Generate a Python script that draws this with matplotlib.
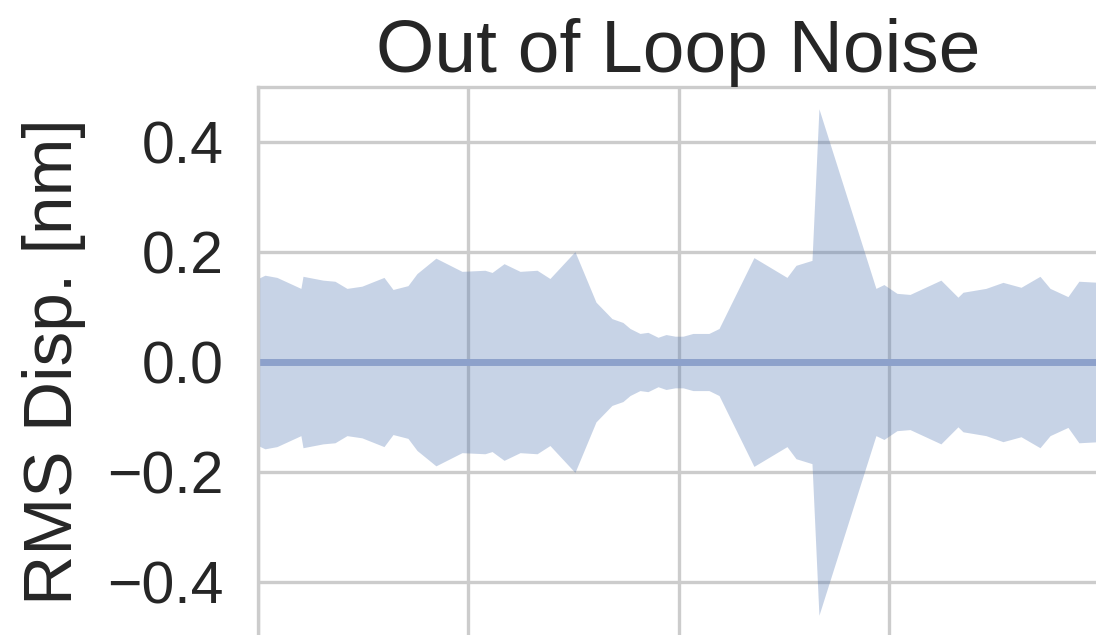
import matplotlib
matplotlib.use("Agg")
import matplotlib.pyplot as plt
import seaborn as sns

# time axis (arbitrary units, gridlines every 1.0) and RMS displacement [nm]
t = [0.000, 0.033, 0.090, 0.204, 0.214, 0.309, 0.366, 0.423, 0.494, 0.599,
     0.642, 0.713, 0.756, 0.846, 0.970, 1.079, 1.113, 1.170, 1.246, 1.327,
     1.388, 1.507, 1.607, 1.683, 1.735, 1.769, 1.816, 1.854, 1.902, 1.940,
     1.983, 2.021, 2.068, 2.144, 2.192, 2.358, 2.515, 2.558, 2.634, 2.667,
     2.938, 2.976, 3.038, 3.100, 3.247, 3.328, 3.352, 3.461, 3.542, 3.628,
     3.718, 3.766, 3.851, 3.903, 4.000]
rms = [0.152, 0.158, 0.154, 0.134, 0.156, 0.149, 0.147, 0.134, 0.138, 0.154,
       0.132, 0.139, 0.161, 0.189, 0.165, 0.167, 0.163, 0.179, 0.165, 0.167,
       0.152, 0.201, 0.109, 0.079, 0.072, 0.061, 0.052, 0.054, 0.045, 0.050,
       0.047, 0.047, 0.052, 0.052, 0.061, 0.190, 0.154, 0.176, 0.185, 0.461,
       0.134, 0.141, 0.125, 0.123, 0.149, 0.118, 0.127, 0.134, 0.145, 0.136,
       0.156, 0.134, 0.119, 0.147, 0.145]
mean_disp = [0.0] * len(t)

sns.set_theme(style="whitegrid")
plt.rcParams['font.family'] = ['Liberation Sans', 'DejaVu Sans']

fig = plt.figure(figsize=(10.96, 6.35), dpi=100)
ax = fig.add_axes([0.2354, -0.0027, 0.7676, 0.8652])

lower = [m - r for m, r in zip(mean_disp, rms)]
upper = [m + r for m, r in zip(mean_disp, rms)]
ax.fill_between(t, lower, upper, color='#4c72b0', alpha=0.31, linewidth=0)
ax.plot(t, mean_disp, color='#8da1cb', linewidth=5)

ax.set_xlim(0, 4)
ax.set_ylim(-0.5, 0.5)
ax.set_xticks([0, 1, 2, 3, 4])
ax.set_yticks([-0.4, -0.2, 0.0, 0.2, 0.4])
ax.set_xticklabels([])
ax.grid(True, color='#cccccc', linewidth=2.4)
for s in ax.spines.values():
    s.set_color('#cccccc')
    s.set_linewidth(2.4)
ax.tick_params(axis='y', length=0, pad=25, labelsize=42.5, labelcolor='#262626')
ax.tick_params(axis='x', length=0)

ax.set_title('Out of Loop Noise', fontsize=54, color='#262626', pad=11)
ax.set_ylabel('RMS Disp. [nm]', fontsize=50, color='#262626', labelpad=15)

fig.savefig('out.png', dpi=100)
